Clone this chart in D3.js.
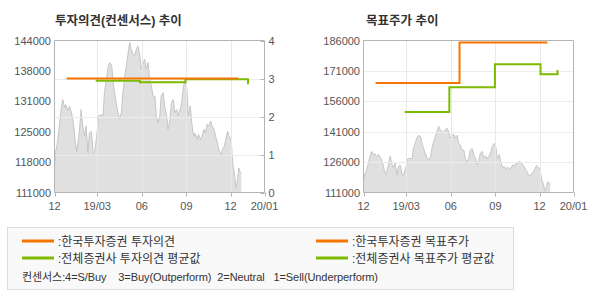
<!DOCTYPE html>
<html><head><meta charset="utf-8">
<script src="https://cdn.jsdelivr.net/npm/d3@7"></script>
<style>
html,body{margin:0;padding:0;background:#fff;}
svg{display:block;font-family:"Liberation Sans","Noto Sans CJK KR",sans-serif;}
</style></head>
<body><svg id="c" width="590" height="300"></svg>
<script>
// ---------- data ----------
const priceDates = ["2018-12-03","2018-12-05","2018-12-09","2018-12-13","2018-12-17","2018-12-20","2018-12-24","2018-12-26","2018-12-31",
"2019-01-03","2019-01-07","2019-01-11","2019-01-15","2019-01-18","2019-01-23","2019-01-27","2019-01-30","2019-02-03","2019-02-06",
"2019-02-10","2019-02-13","2019-02-17","2019-02-21","2019-02-24","2019-02-28","2019-03-04","2019-03-09","2019-03-13","2019-03-16",
"2019-03-20","2019-03-24","2019-03-27","2019-03-31","2019-04-03","2019-04-06","2019-04-09","2019-04-13","2019-04-16","2019-04-20",
"2019-04-23","2019-04-27","2019-04-30","2019-05-03","2019-05-07","2019-05-10","2019-05-14","2019-05-17","2019-05-21","2019-05-24",
"2019-05-28","2019-05-31","2019-06-04","2019-06-07","2019-06-10","2019-06-14","2019-06-17","2019-06-21","2019-06-24","2019-06-28",
"2019-07-01","2019-07-04","2019-07-08","2019-07-11","2019-07-15","2019-07-18","2019-07-22","2019-07-25","2019-07-29","2019-08-01",
"2019-08-05","2019-08-08","2019-08-12","2019-08-15","2019-08-19","2019-08-22","2019-08-26","2019-08-29","2019-09-02","2019-09-05",
"2019-09-09","2019-09-12","2019-09-16","2019-09-19","2019-09-23","2019-09-26","2019-09-30","2019-10-03","2019-10-07","2019-10-10",
"2019-10-14","2019-10-17","2019-10-21","2019-10-24","2019-10-28","2019-10-31","2019-11-04","2019-11-07","2019-11-11","2019-11-14",
"2019-11-18","2019-11-21","2019-11-25","2019-11-28","2019-12-02","2019-12-04","2019-12-06","2019-12-09","2019-12-11","2019-12-13",
"2019-12-16","2019-12-18","2019-12-20","2019-12-23"];
const prices = [116700,119600,121800,125400,129400,131200,129400,130100,128700,
129800,128300,126100,121800,119900,123900,129000,125400,123200,125400,
119600,123900,124300,119600,119900,123200,127600,127900,127600,132700,
135600,138500,139200,138500,134800,132700,130500,128300,127100,128300,
132700,136300,138500,140700,143600,142100,141000,140700,142100,142800,
140700,137800,139200,139900,137800,139200,135600,134100,131900,131900,
127600,126100,127600,131900,132700,129800,127900,124700,126900,130500,
131200,128300,129000,127600,129000,130500,134100,135200,133400,127600,
129800,126100,123200,123900,122500,123600,122500,123200,124700,123900,
125800,125400,126500,125400,124700,123200,121800,120300,118900,120300,
121000,122500,124300,123200,122800,119600,116700,115200,113000,111900,
114500,116300,115600,115200];

const myOpinionDates = ["2018-12-28","2019-12-17"];
const myOpinion = [3, 3];
const avgOpinionDates = ["2019-02-26","2019-05-28","2019-08-30","2020-01-06"];
const avgOpinion = [2.94, 2.90, 2.98, 2.85];

const myTargetDates = ["2018-12-28","2019-06-19","2019-12-17"];
const myTarget = [165000, 185000, 185000];
const avgTargetDates = ["2019-02-26","2019-05-29","2019-08-31","2019-12-03","2020-01-07"];
const avgTarget = [150700, 162900, 174300, 169300, 171500];

const xDomain = ["2018-12-03","2020-02-09"];
const xTickDates = ["2018-12-03","2019-03-01","2019-06-01","2019-09-01","2019-12-01","2020-02-09"];
const xTickLabels = ["12","19/03","06","09","12","20/01"];
const leftPriceDomain = [111000, 144000];
const leftPriceLabels = ["144000","138000","131000","125000","118000","111000"];
const opinionTicks = [0,1,2,3,4];
const targetDomain = [111000, 186000];
const targetTicks = [186000,171000,156000,141000,126000,111000];

const titles = ["투자의견(컨센서스) 추이", "목표주가 추이"];
const legendLabels = [":한국투자증권 투자의견", ":전체증권사 투자의견 평균값", ":한국투자증권 목표주가", ":전체증권사 목표주가 평균값"];
const consensusNote = "컨센서스:4=S/Buy    3=Buy(Outperform)  2=Neutral   1=Sell(Underperform)";

// ---------- drawing ----------
const P = d3.timeParse("%Y-%m-%d");
const ORANGE = "#f57500", GREEN = "#7cbb00";
const svg = d3.select("#c");
const priceData = priceDates.map((d,i)=>({d:P(d), v:prices[i]}));
const toPts = (ds, vs) => ds.map((d,i)=>({d:P(d), v:vs[i]}));

const TOPY = 40.5, BOTY = 192.5;

function frame(g, x0, x1, x) {
  g.selectAll(".vg").data(xTickDates.slice(1,-1)).join("line")
    .attr("x1", d=>Math.round(x(P(d)))+0.5).attr("x2", d=>Math.round(x(P(d)))+0.5)
    .attr("y1", TOPY).attr("y2", BOTY).attr("stroke", "#e9e9e9");
  g.selectAll(".xt").data(xTickDates).join("line")
    .attr("x1", d=>Math.round(x(P(d)))+0.5).attr("x2", d=>Math.round(x(P(d)))+0.5)
    .attr("y1", BOTY).attr("y2", BOTY+4).attr("stroke", "#b4b4b4");
  g.selectAll(".xl").data(xTickDates).join("text")
    .attr("x", d=>x(P(d))).attr("y", 210)
    .attr("text-anchor","middle").attr("font-size", 11).attr("fill","#555")
    .text((d,i)=>xTickLabels[i]);
}
function border(g, x0, x1) {
  g.append("path").attr("d", `M${x0},${TOPY}H${x1}V${BOTY}H${x0}Z`)
    .attr("fill","none").attr("stroke","#b4b4b4");
}

// ===== Left chart =====
{
  const x0 = 54.5, x1 = 264.5;
  const x = d3.scaleTime().domain(xDomain.map(P)).range([x0, x1]);
  const yP = d3.scaleLinear().domain(leftPriceDomain).range([BOTY, TOPY]);
  const yO = d3.scaleLinear().domain([0,4]).range([BOTY, TOPY]);
  const yL = d3.scalePoint().domain(leftPriceLabels).range([TOPY, BOTY]);
  const g = svg.append("g");

  g.append("path").datum(priceData)
    .attr("d", d3.area().x(d=>x(d.d)).y0(BOTY).y1(d=>yP(d.v)))
    .attr("fill", "#e0e0e0");
  g.append("path").datum(priceData)
    .attr("d", d3.line().x(d=>x(d.d)).y(d=>yP(d.v)))
    .attr("fill","none").attr("stroke","#c6c6c6").attr("stroke-width",1);

  g.selectAll(".hg").data(opinionTicks.slice(1,-1)).join("line")
    .attr("x1", x0).attr("x2", x1).attr("y1", d=>Math.round(yO(d))+0.5).attr("y2", d=>Math.round(yO(d))+0.5)
    .attr("stroke","#ececec");
  frame(g, x0, x1, x);
  g.selectAll(".rt").data(opinionTicks).join("line")
    .attr("x1", x1-4).attr("x2", x1).attr("y1", d=>Math.round(yO(d))+0.5).attr("y2", d=>Math.round(yO(d))+0.5)
    .attr("stroke","#b4b4b4");
  g.selectAll(".rl").data(opinionTicks).join("text")
    .attr("x", x1+4).attr("y", d=>yO(d)+4).attr("font-size",11).attr("fill","#555").text(d=>d);
  g.selectAll(".ll").data(leftPriceLabels).join("text")
    .attr("x", 51).attr("y", d=>yL(d)+4).attr("text-anchor","end").attr("font-size",11).attr("fill","#555").text(d=>d);
  border(g, x0, x1);

  const ln = d3.line().x(d=>x(d.d)).y(d=>yO(d.v)).curve(d3.curveStepAfter);
  g.append("path").datum(toPts(avgOpinionDates, avgOpinion)).attr("d", ln)
    .attr("fill","none").attr("stroke",GREEN).attr("stroke-width",2);
  g.append("path").datum(toPts(myOpinionDates, myOpinion)).attr("d", ln)
    .attr("fill","none").attr("stroke",ORANGE).attr("stroke-width",2);

  g.append("text").attr("x", 55).attr("y", 25).attr("font-size", 12.5).attr("font-weight","bold")
    .attr("fill","#333").text(titles[0]);
}

// ===== Right chart =====
{
  const x0 = 363.5, x1 = 573.5;
  const x = d3.scaleTime().domain(xDomain.map(P)).range([x0, x1]);
  const y = d3.scaleLinear().domain(targetDomain).range([BOTY, TOPY]);
  const g = svg.append("g");

  g.append("path").datum(priceData)
    .attr("d", d3.area().x(d=>x(d.d)).y0(BOTY).y1(d=>y(d.v)))
    .attr("fill", "#e0e0e0");
  g.append("path").datum(priceData)
    .attr("d", d3.line().x(d=>x(d.d)).y(d=>y(d.v)))
    .attr("fill","none").attr("stroke","#c6c6c6").attr("stroke-width",1);

  g.selectAll(".hg").data(targetTicks.slice(1,-1)).join("line")
    .attr("x1", x0).attr("x2", x1).attr("y1", d=>Math.round(y(d))+0.5).attr("y2", d=>Math.round(y(d))+0.5)
    .attr("stroke","#ececec");
  frame(g, x0, x1, x);
  g.selectAll(".ll").data(targetTicks).join("text")
    .attr("x", 360).attr("y", d=>y(d)+4).attr("text-anchor","end").attr("font-size",11).attr("fill","#555").text(d=>d);
  border(g, x0, x1);

  const ln = d3.line().x(d=>x(d.d)).y(d=>y(d.v)).curve(d3.curveStepAfter);
  g.append("path").datum(toPts(myTargetDates, myTarget)).attr("d", ln)
    .attr("fill","none").attr("stroke",ORANGE).attr("stroke-width",2);
  g.append("path").datum(toPts(avgTargetDates, avgTarget)).attr("d", ln)
    .attr("fill","none").attr("stroke",GREEN).attr("stroke-width",2);

  g.append("text").attr("x", 366).attr("y", 25).attr("font-size", 12.5).attr("font-weight","bold")
    .attr("fill","#333").text(titles[1]);
}

// ===== Legend =====
{
  const g = svg.append("g");
  g.append("rect").attr("x", 7.5).attr("y", 227.5).attr("width", 506).attr("height", 62)
    .attr("fill","#f9f9f9").attr("stroke","#dcdcdc");
  const items = [
    {x:22, y:241, c:ORANGE, t:legendLabels[0]},
    {x:22, y:258, c:GREEN,  t:legendLabels[1]},
    {x:316, y:241, c:ORANGE, t:legendLabels[2]},
    {x:316, y:258, c:GREEN,  t:legendLabels[3]}
  ];
  items.forEach(it=>{
    g.append("line").attr("x1", it.x).attr("x2", it.x+32).attr("y1", it.y).attr("y2", it.y)
      .attr("stroke", it.c).attr("stroke-width", 3);
    g.append("text").attr("x", it.x+36).attr("y", it.y+4.5).attr("font-size", 12).attr("fill","#333").text(it.t);
  });
  g.append("text").attr("x", 22).attr("y", 281).attr("font-size", 11).attr("fill","#333")
    .attr("xml:space","preserve").style("white-space","pre")
    .attr("textLength", 356).attr("lengthAdjust","spacing").text(consensusNote);
}
</script></body></html>
